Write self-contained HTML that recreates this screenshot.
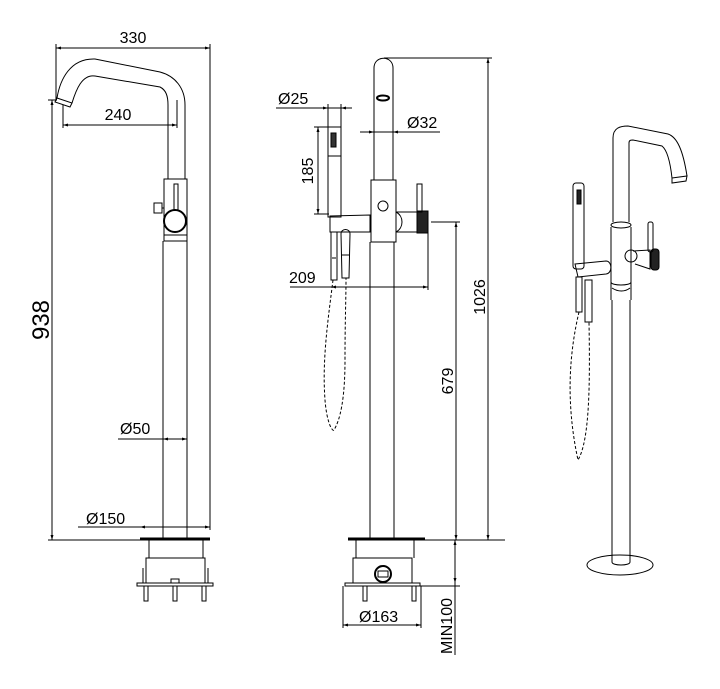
<!DOCTYPE html>
<html><head><meta charset="utf-8"><style>
html,body{margin:0;padding:0;background:#fff;}
svg{display:block;}
text{font-family:"Liberation Sans",sans-serif;fill:#000;}
</style></head><body>
<svg width="720" height="689" viewBox="0 0 720 689" xmlns="http://www.w3.org/2000/svg">
<defs>
<marker id="a" viewBox="0 0 10 10" refX="10" refY="5" markerWidth="7" markerHeight="5" orient="auto-start-reverse"><path d="M0,2 L10,5 L0,8 z" fill="#000"/></marker>
</defs>
<g stroke="#000" fill="none" stroke-width="1">
<line x1="56" y1="48" x2="210" y2="48" marker-start="url(#a)" marker-end="url(#a)"/>
<line x1="56" y1="44" x2="56" y2="100"/>
<line x1="210" y1="44" x2="210" y2="530"/>
<line x1="52" y1="100" x2="52" y2="540" marker-start="url(#a)" marker-end="url(#a)"/>
<line x1="48" y1="100" x2="57" y2="100"/>
<line x1="63" y1="125" x2="177" y2="125" marker-start="url(#a)" marker-end="url(#a)"/>
<line x1="63" y1="105" x2="63" y2="128"/>
<line x1="177" y1="100" x2="177" y2="128"/>
<line x1="118" y1="439" x2="163" y2="439"/>
<line x1="163" y1="439" x2="187" y2="439" marker-start="url(#a)" marker-end="url(#a)"/>
<line x1="78" y1="527" x2="140" y2="527"/>
<line x1="140" y1="527" x2="210" y2="527" marker-start="url(#a)" marker-end="url(#a)"/>
<line x1="48" y1="540" x2="140" y2="540"/>
<path d="M57,98 C60,80 70,58 95,59 L160,72 C175,76 185,88 185,105 L185,179"/>
<path d="M72,103 C76,90 82,74 95,76 L160,87 C166,90 168,96 168,105 L168,179"/>
<path d="M57,98 L72,103 L70,107 L55,102 z"/>
<rect x="164" y="179" width="23" height="62"/>
<rect x="174" y="184" width="4" height="26"/>
<circle cx="175" cy="221" r="11" stroke-width="2"/>
<rect x="154" y="203" width="8" height="10"/>
<line x1="162" y1="208" x2="164" y2="208"/>
<line x1="164" y1="235" x2="187" y2="235"/>
<line x1="163" y1="241" x2="163" y2="538"/>
<line x1="187" y1="241" x2="187" y2="538"/>
<line x1="140" y1="539" x2="210" y2="539" stroke-width="3"/>
<line x1="149" y1="540" x2="149" y2="558"/>
<line x1="203" y1="540" x2="203" y2="558"/>
<rect x="146" y="558" width="59" height="25"/>
<rect x="137" y="583" width="76" height="3"/>
<line x1="143" y1="568" x2="143" y2="583"/><line x1="208" y1="568" x2="208" y2="583"/>
<rect x="144" y="586" width="4" height="15"/>
<rect x="173" y="586" width="4" height="15"/>
<rect x="202" y="586" width="4" height="15"/>
<rect x="171" y="579" width="8" height="4"/>
<line x1="384" y1="58" x2="492" y2="58"/>
<line x1="488" y1="58" x2="488" y2="540" marker-start="url(#a)" marker-end="url(#a)"/>
<line x1="394" y1="540" x2="505" y2="540"/>
<path d="M374,180 L374,68 C374,55 393,55 393,68 L393,180"/>
<ellipse cx="383" cy="98" rx="6" ry="2.5" stroke-width="2"/>
<line x1="360" y1="132" x2="440" y2="132"/>
<line x1="360" y1="132" x2="374" y2="132" marker-end="url(#a)"/>
<line x1="407" y1="132" x2="393" y2="132" marker-end="url(#a)"/>
<line x1="276" y1="108" x2="352" y2="108"/>
<line x1="320" y1="108" x2="328" y2="108" marker-end="url(#a)"/>
<line x1="350" y1="108" x2="341" y2="108" marker-end="url(#a)"/>
<line x1="328" y1="104" x2="328" y2="127"/>
<line x1="341" y1="104" x2="341" y2="127"/>
<line x1="318" y1="127" x2="318" y2="214" marker-start="url(#a)" marker-end="url(#a)"/>
<line x1="314" y1="127" x2="329" y2="127"/>
<line x1="314" y1="214" x2="329" y2="214"/>
<rect x="328" y="127" width="13" height="90"/>
<rect x="331" y="133" width="5" height="14" fill="#333"/>
<line x1="328" y1="156" x2="341" y2="156"/>
<path d="M330,216 L370,215 L370,232 L330,232 z"/>
<path d="M331,232 L331,280 L337,280 L337,232"/>
<path d="M341,234 C341,228 350,228 350,234 L349,278 L342,278 z"/>
<line x1="342" y1="255" x2="349" y2="255"/>
<line x1="332" y1="258" x2="336" y2="258"/>
<path d="M333,280 C328,320 322,360 325,400 C327,425 333,432 334,430 C340,420 345,400 345,360 C345,320 346,300 346,278" stroke-dasharray="3,2"/>
<line x1="290" y1="287" x2="428" y2="287"/>
<line x1="331" y1="287" x2="428" y2="287" marker-start="url(#a)" marker-end="url(#a)"/>
<line x1="428" y1="222" x2="428" y2="290"/>
<rect x="371" y="180" width="25" height="62"/>
<circle cx="383" cy="206" r="5"/>
<path d="M396,212 L417,212 L417,232 L396,232 C404,228 404,216 396,212"/>
<rect x="417" y="211" width="11" height="22" fill="#222"/>
<rect x="417" y="184" width="5" height="28"/>
<line x1="370" y1="242" x2="370" y2="538"/>
<line x1="394" y1="242" x2="394" y2="538"/>
<line x1="348" y1="539" x2="425" y2="539" stroke-width="3"/>
<line x1="431" y1="222" x2="460" y2="222"/>
<line x1="456" y1="222" x2="456" y2="540" marker-start="url(#a)" marker-end="url(#a)"/>
<line x1="428" y1="540" x2="460" y2="540"/>
<line x1="356" y1="540" x2="356" y2="558"/>
<line x1="414" y1="540" x2="414" y2="558"/>
<rect x="353" y="558" width="59" height="25"/>
<circle cx="383" cy="574" r="8" stroke-width="2"/>
<rect x="378" y="571" width="10" height="6"/>
<rect x="345" y="583" width="75" height="3"/>
<rect x="363" y="586" width="4" height="15"/>
<rect x="412" y="586" width="4" height="15"/>
<line x1="420" y1="586" x2="460" y2="586"/>
<line x1="455" y1="540" x2="455" y2="583" marker-start="url(#a)" marker-end="url(#a)"/>
<line x1="455" y1="583" x2="455" y2="655"/>
<line x1="343" y1="586" x2="343" y2="628"/>
<line x1="421" y1="586" x2="421" y2="628"/>
<line x1="343" y1="625" x2="421" y2="625" marker-start="url(#a)" marker-end="url(#a)"/>
<path d="M613,222 L613,138 C613,128 620,126 628,126 L668,134 C677,137 683,150 687,176"/>
<path d="M629,222 L629,143 C629,140 631,140 633,140 L662,146 C667,150 670,160 672,178"/>
<path d="M672,178 L687,176 L686,181 L672,183 z"/>
<ellipse cx="621" cy="225" rx="10" ry="3"/>
<path d="M611,227 L611,282 C611,286 631,286 631,282 L631,227"/>
<line x1="612" y1="300" x2="612" y2="562"/>
<line x1="630" y1="300" x2="630" y2="562"/>
<line x1="611" y1="282" x2="611" y2="300"/><line x1="631" y1="282" x2="631" y2="300"/>
<path d="M612,288 C618,292 625,292 630,288"/>
<ellipse cx="620" cy="565" rx="33" ry="10"/>
<path d="M612,562 C612,566 630,566 630,562"/>
<circle cx="631" cy="256" r="6"/>
<path d="M633,251 L650,250 L650,269 L635,264"/>
<rect x="651" y="249" width="8" height="21" rx="3" fill="#222"/>
<rect x="648" y="222" width="5" height="30" rx="2"/>
<path d="M575,264 L606,261 C612,261 613,273 606,274 L578,277 z"/>
<rect x="573" y="183" width="11" height="86" rx="3"/>
<rect x="577" y="190" width="4" height="14" fill="#222"/>
<rect x="576" y="277" width="6" height="35"/>
<rect x="585" y="280" width="7" height="42"/>
<path d="M579,312 C570,350 565,400 578,460 C590,440 590,380 589,322" stroke-dasharray="3,2"/>
</g>
<g font-size="16">
<text x="133" y="43" text-anchor="middle">330</text>
<text x="118" y="120" text-anchor="middle">240</text>
<text x="120" y="434">Ø50</text>
<text x="86" y="524">Ø150</text>
<text x="278" y="104">Ø25</text>
<text x="407" y="128">Ø32</text>
<text x="289" y="283">209</text>
<text x="359" y="622">Ø163</text>
<text transform="translate(313,171) rotate(-90)" text-anchor="middle">185</text>
<text transform="translate(485,297) rotate(-90)" text-anchor="middle">1026</text>
<text transform="translate(453,381) rotate(-90)" text-anchor="middle">679</text>
<text transform="translate(452,626) rotate(-90)" text-anchor="middle">MIN100</text>
</g>
<text transform="translate(49,320) rotate(-90)" text-anchor="middle" font-size="24">938</text>
</svg>
</body></html>
